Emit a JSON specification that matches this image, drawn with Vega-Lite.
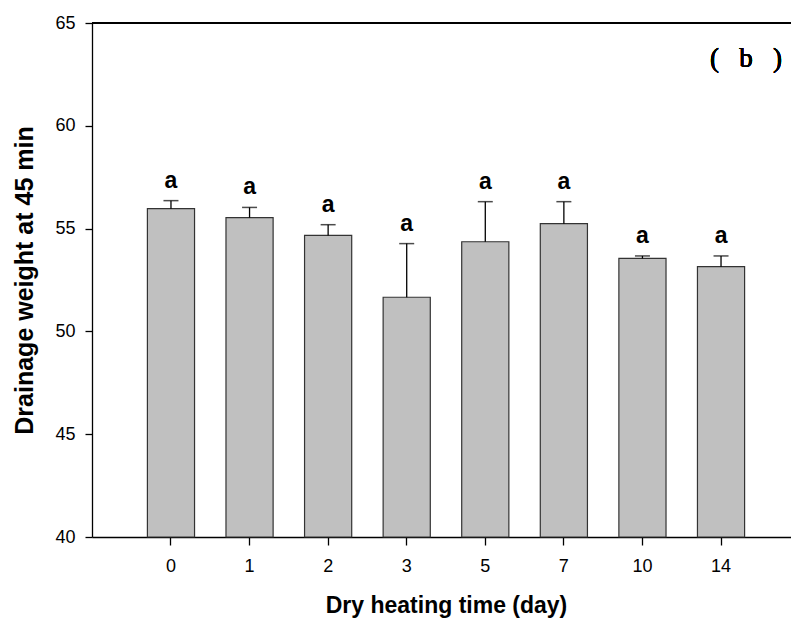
{
  "$schema": "https://vega.github.io/schema/vega-lite/v6.json",
  "autosize": {"type": "none"},
  "padding": {"left": 92, "top": 23, "right": 0, "bottom": 89},
  "width": 699,
  "height": 514,
  "background": "white",
  "config": {
    "view": {"stroke": null},
    "font": "Liberation Sans",
    "axis": {
      "domainColor": "black",
      "tickColor": "black",
      "labelColor": "black",
      "titleColor": "black",
      "grid": false,
      "labelFont": "Liberation Sans",
      "titleFont": "Liberation Sans",
      "domainWidth": 1.3,
      "tickWidth": 1.3
    }
  },
  "data": {
    "values": [
      {"day": 0, "mean": 55.97, "upper": 56.36, "sig": "a"},
      {"day": 1, "mean": 55.53, "upper": 56.03, "sig": "a"},
      {"day": 2, "mean": 54.67, "upper": 55.19, "sig": "a"},
      {"day": 3, "mean": 51.66, "upper": 54.27, "sig": "a"},
      {"day": 5, "mean": 54.36, "upper": 56.31, "sig": "a"},
      {"day": 7, "mean": 55.24, "upper": 56.31, "sig": "a"},
      {"day": 10, "mean": 53.55, "upper": 53.67, "sig": "a"},
      {"day": 14, "mean": 53.15, "upper": 53.67, "sig": "a"}
    ]
  },
  "encoding": {
    "x": {
      "field": "day",
      "type": "ordinal",
      "scale": {"paddingInner": 0.4, "paddingOuter": 0.705, "range": [0, 708]},
      "axis": {
        "title": "Dry heating time (day)",
        "titleFontSize": 23,
        "titleFontWeight": "bold",
        "titlePadding": 19,
        "labelFontSize": 18,
        "labelAngle": 0,
        "labelPadding": 12,
        "tickSize": 8
      }
    }
  },
  "layer": [
    {
      "mark": {"type": "rule", "color": "black", "strokeWidth": 1.5},
      "encoding": {"x": null, "y": {"datum": 65, "type": "quantitative"}}
    },
    {
      "mark": {"type": "bar", "fill": "#c0c0c0", "stroke": "#333333", "strokeWidth": 1.2},
      "encoding": {
        "y": {
          "field": "mean",
          "type": "quantitative",
          "scale": {"domain": [40, 65], "zero": false, "nice": false},
          "axis": {
            "title": "Drainage weight at 45 min",
            "titleFontSize": 25,
            "titleFontWeight": "bold",
            "titlePadding": 17,
            "labelFontSize": 18,
            "labelPadding": 10,
            "tickSize": 7,
            "values": [40, 45, 50, 55, 60, 65]
          }
        },
        "y2": {"datum": 40}
      }
    },
    {
      "mark": {"type": "rule", "color": "black", "strokeWidth": 1.3},
      "encoding": {
        "y": {"field": "mean", "type": "quantitative"},
        "y2": {"field": "upper"}
      }
    },
    {
      "mark": {"type": "tick", "orient": "horizontal", "color": "black", "size": 15, "thickness": 1.5},
      "encoding": {
        "y": {"field": "upper", "type": "quantitative"}
      }
    },
    {
      "mark": {"type": "text", "font": "Liberation Sans", "fontWeight": "bold", "fontSize": 23, "baseline": "alphabetic", "dy": -13, "color": "black"},
      "encoding": {
        "y": {"field": "upper", "type": "quantitative"},
        "text": {"field": "sig"}
      }
    },
    {
      "mark": {"type": "text", "font": "Liberation Serif", "fontSize": 27, "fontWeight": "normal", "baseline": "alphabetic", "align": "center", "dx": 25, "color": "black"},
      "encoding": {
        "x": {"datum": 14, "type": "ordinal"},
        "y": {"datum": 62.85, "type": "quantitative"},
        "text": {"value": "(\u00a0\u00a0\u00a0b\u00a0\u00a0\u00a0)"}
      }
    }
  ]
}
